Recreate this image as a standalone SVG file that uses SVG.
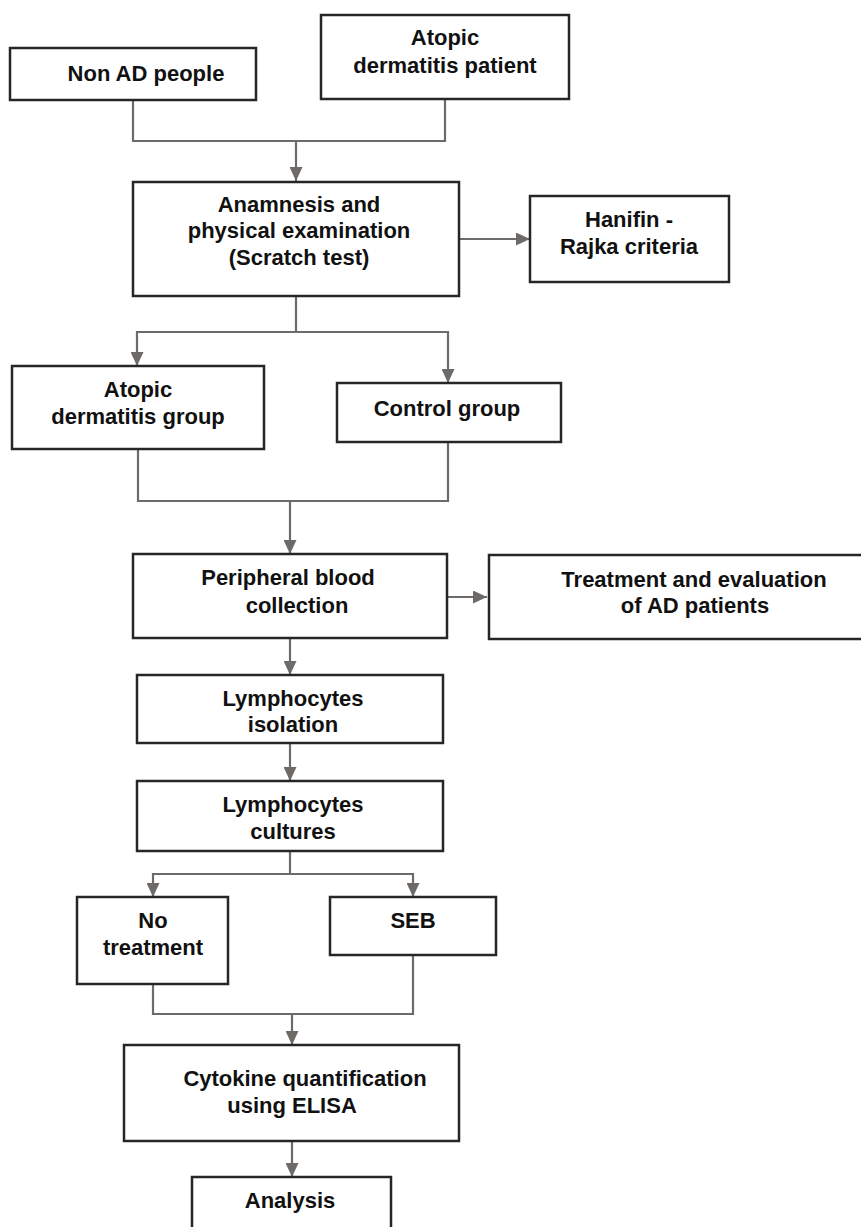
<svg xmlns="http://www.w3.org/2000/svg" width="861" height="1227" viewBox="0 0 861 1227">
<defs>
<style>
.box{fill:#fff;stroke:#262626;stroke-width:2.5}
.t{font-family:"Liberation Sans",Arial,sans-serif;font-weight:bold;font-size:22px;fill:#111;text-anchor:middle}
.c{fill:none;stroke:#6e6a67;stroke-width:2.2}
</style>
<marker id="ah" viewBox="0 0 14 13" refX="14" refY="6.5" markerWidth="14" markerHeight="13" markerUnits="userSpaceOnUse" orient="auto">
<path d="M0,0 L14,6.5 L0,13 z" fill="#6e6a67"/>
</marker>
</defs>
<rect width="861" height="1227" fill="#fff"/>
<g id="connectors">
<path class="c" d="M133,100 V141 H445 V99"/>
<path class="c" d="M296,141 V181" marker-end="url(#ah)"/>
<path class="c" d="M460,239 H530" marker-end="url(#ah)"/>
<path class="c" d="M296,296 V332"/>
<path class="c" d="M296,332 H137 V366" marker-end="url(#ah)"/>
<path class="c" d="M296,332 H448 V383" marker-end="url(#ah)"/>
<path class="c" d="M138,449 V501 H448 V442"/>
<path class="c" d="M290,501 V554" marker-end="url(#ah)"/>
<path class="c" d="M447,597 H487" marker-end="url(#ah)"/>
<path class="c" d="M290,638 V675" marker-end="url(#ah)"/>
<path class="c" d="M290,743 V781" marker-end="url(#ah)"/>
<path class="c" d="M290,851 V874"/>
<path class="c" d="M290,874 H153 V897" marker-end="url(#ah)"/>
<path class="c" d="M290,874 H413 V897" marker-end="url(#ah)"/>
<path class="c" d="M153,984 V1014 H413 V955"/>
<path class="c" d="M292,1014 V1045" marker-end="url(#ah)"/>
<path class="c" d="M292,1141 V1177" marker-end="url(#ah)"/>
</g>
<g id="nonad"><rect class="box" x="10" y="48" width="246" height="52"/><text class="t" x="146" y="81">Non AD people</text></g>
<g id="adpatient"><rect class="box" x="321" y="15" width="248" height="84"/><text class="t" x="445" y="45">Atopic</text><text class="t" x="445" y="73">dermatitis patient</text></g>
<g id="anamnesis"><rect class="box" x="133" y="182" width="326" height="114"/><text class="t" x="299" y="212">Anamnesis and</text><text class="t" x="299" y="238">physical examination</text><text class="t" x="299" y="265">(Scratch test)</text></g>
<g id="hanifin"><rect class="box" x="530" y="196" width="199" height="86"/><text class="t" x="629" y="227">Hanifin -</text><text class="t" x="629" y="254">Rajka criteria</text></g>
<g id="adgroup"><rect class="box" x="12" y="366" width="252" height="83"/><text class="t" x="138" y="397">Atopic</text><text class="t" x="138" y="424">dermatitis group</text></g>
<g id="control"><rect class="box" x="337" y="383" width="224" height="59"/><text class="t" x="447" y="416">Control group</text></g>
<g id="peripheral"><rect class="box" x="133" y="554" width="314" height="84"/><text class="t" x="288" y="585">Peripheral blood</text><text class="t" x="297" y="613">collection</text></g>
<g id="treatment"><rect class="box" x="489" y="555" width="381" height="84"/><text class="t" x="694" y="587">Treatment and evaluation</text><text class="t" x="695" y="613">of AD patients</text></g>
<g id="isolation"><rect class="box" x="137" y="675" width="306" height="68"/><text class="t" x="293" y="706">Lymphocytes</text><text class="t" x="293" y="732">isolation</text></g>
<g id="cultures"><rect class="box" x="137" y="781" width="306" height="70"/><text class="t" x="293" y="812">Lymphocytes</text><text class="t" x="293" y="839">cultures</text></g>
<g id="notreatment"><rect class="box" x="77" y="897" width="151" height="87"/><text class="t" x="153" y="928">No</text><text class="t" x="153" y="955">treatment</text></g>
<g id="seb"><rect class="box" x="330" y="897" width="166" height="58"/><text class="t" x="413" y="928">SEB</text></g>
<g id="cytokine"><rect class="box" x="124" y="1045" width="335" height="96"/><text class="t" x="305" y="1086">Cytokine quantification</text><text class="t" x="292" y="1113">using ELISA</text></g>
<g id="analysis"><rect class="box" x="192" y="1177" width="199" height="60"/><text class="t" x="290" y="1208">Analysis</text></g>
</svg>
